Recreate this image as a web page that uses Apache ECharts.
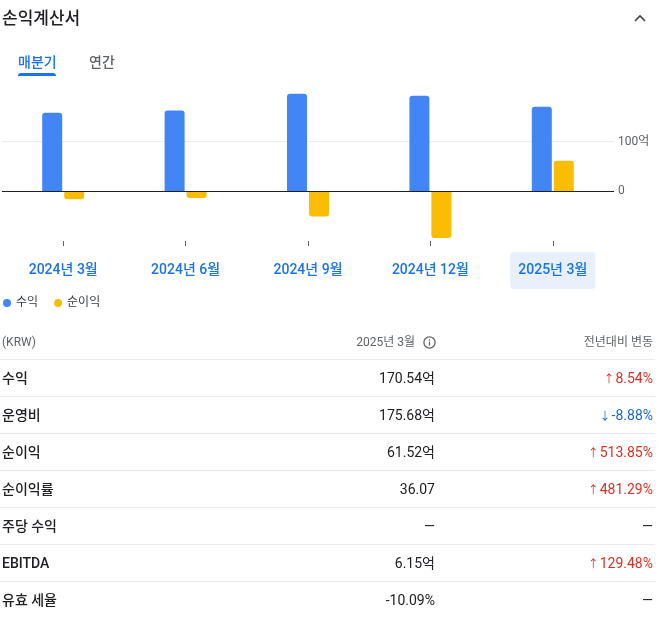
<!DOCTYPE html>
<html><head><meta charset="utf-8">
<script src="https://cdn.jsdelivr.net/npm/echarts@6/dist/echarts.min.js"></script>
<style>
html,body{margin:0;padding:0;background:#fff;}
body{width:662px;height:633px;position:relative;overflow:hidden;font-family:Roboto,"Noto Sans CJK KR",sans-serif;color:#202124;}
#chart{position:absolute;left:0;top:0;width:662px;height:633px;}
.abs{position:absolute;white-space:nowrap;}
.line{position:absolute;left:0;width:655px;height:1px;background:#e8eaed;}
</style>
</head><body>
<div id="chart"></div>
<div class="abs" style="left:2px;top:8px;font-size:17px;line-height:20px;color:#202124;font-weight:500;">손익계산서</div>
<svg class="abs" style="left:634px;top:14px;" width="12" height="8" viewBox="0 0 12 8"><polyline points="1,7 6,2 11,7" fill="none" stroke="#444" stroke-width="1.6"/></svg>
<div class="abs" style="left:18px;top:53px;font-size:14px;line-height:18px;color:#1a73e8;font-weight:500;">매분기</div>
<div class="abs" style="left:18px;top:73px;width:38px;height:3px;background:#1a73e8;border-radius:3px 3px 0 0;"></div>
<div class="abs" style="left:89px;top:53px;font-size:14px;line-height:18px;color:#5f6368;font-weight:500;">연간</div>
<div id="table"></div>
<script>
const categories = ['2024년 3월','2024년 6월','2024년 9월','2024년 12월','2025년 3월'];
const revenue = [158.3, 163.0, 196.6, 192.6, 170.54];
const netIncome = [-16.1, -13.3, -50.9, -93.8, 61.52];
const yLabels = {0:'0', 100:'100억'};

const rowLabels = ['수익','운영비','순이익','순이익률','주당 수익','EBITDA','유효 세율'];
const rowValues = ['170.54억','175.68억','61.52억','36.07','—','6.15억','-10.09%'];
const rowChanges = ['8.54%','-8.88%','513.85%','481.29%','—','129.48%','—'];
const rowDirs = ['up','down','up','up','','up',''];

// table
(function(){
  const t = document.getElementById('table');
  let h = '';
  h += '<div class="abs" style="left:2px;top:334px;font-size:12px;line-height:16px;color:#5f6368;">(KRW)</div>';
  h += '<div class="abs" style="right:247px;top:334px;font-size:12px;line-height:16px;color:#5f6368;">2025년 3월</div>';
  h += '<svg class="abs" style="left:423px;top:336px;" width="13" height="13" viewBox="0 0 13 13"><circle cx="6.5" cy="6.5" r="5.6" fill="none" stroke="#5f6368" stroke-width="1.3"/><rect x="5.85" y="5.6" width="1.3" height="4" fill="#5f6368"/><rect x="5.85" y="3.3" width="1.3" height="1.3" fill="#5f6368"/></svg>';
  h += '<div class="abs" style="right:9px;top:334px;font-size:12px;line-height:16px;color:#5f6368;">전년대비 변동</div>';
  for (let i = 0; i < rowLabels.length; i++) {
    const lineY = 359 + i * 37;
    const cy = lineY + 19;
    h += '<div class="line" style="top:' + lineY + 'px;"></div>';
    h += '<div class="abs" style="left:2px;top:' + (cy - 10) + 'px;font-size:14px;line-height:20px;color:#202124;font-weight:500;">' + rowLabels[i] + '</div>';
    h += '<div class="abs" style="right:227px;top:' + (cy - 10) + 'px;font-size:14px;line-height:20px;color:#202124;">' + rowValues[i] + '</div>';
    let col = '#202124', arrow = '';
    if (rowDirs[i] === 'up') { col = '#d93025'; arrow = '<span style="font-size:11px;margin-right:1px;">↑</span>'; }
    if (rowDirs[i] === 'down') { col = '#1967d2'; arrow = '<span style="font-size:11px;margin-right:1px;">↓</span>'; }
    h += '<div class="abs" style="right:9px;top:' + (cy - 10) + 'px;font-size:14px;line-height:20px;color:' + col + ';">' + arrow + rowChanges[i] + '</div>';
  }
  t.innerHTML = h;
})();

const chart = echarts.init(document.getElementById('chart'), null, {renderer:'canvas'});
const lastIdx = categories.length - 1;
const labelRich = {
  n: {fontSize:14, fontWeight:500, color:'#1a73e8', lineHeight:17, padding:[11,8,12,8], fontFamily:'Roboto, "Noto Sans CJK KR", sans-serif'},
  sel: {fontSize:14, fontWeight:500, color:'#1a73e8', lineHeight:17, padding:[11,8,12,8], backgroundColor:'#e8f0fe', borderRadius:4, fontFamily:'Roboto, "Noto Sans CJK KR", sans-serif'}
};
chart.setOption({
  animation: false,
  textStyle: {fontFamily:'Roboto, "Noto Sans CJK KR", sans-serif'},
  legend: {
    data: ['수익','순이익'], left: 3, top: 297, padding: 0,
    icon: 'circle', itemWidth: 8, itemHeight: 8, itemGap: 16,
    textStyle: {fontSize: 12, color: '#3c4043'}
  },
  grid: {left: 2, right: 48, top: 92, height: 149, containLabel: false},
  xAxis: {
    type: 'category', data: categories,
    axisLine: {show: false, onZero: false},
    axisTick: {show: true, alignWithLabel: true, length: 5, lineStyle: {color: '#5f6368', width: 1}},
    axisLabel: {
      margin: 21, rich: labelRich,
      formatter: (v, i) => (i === lastIdx ? '{sel|' + v + '}' : '{n|' + v + '}')
    },
    splitLine: {show: false}
  },
  yAxis: {
    type: 'value', position: 'right', min: -100, max: 200, interval: 100,
    axisLine: {show: false}, axisTick: {show: false},
    axisLabel: {margin: 4, fontSize: 12, color: '#5f6368', formatter: v => (yLabels[v] !== undefined ? yLabels[v] : '')},
    splitLine: {show: true, lineStyle: {color: ['rgba(0,0,0,0)','rgba(0,0,0,0)','#ededed','rgba(0,0,0,0)'], width: 1}}
  },
  series: [
    {
      name: '수익', type: 'bar', barWidth: 20, barGap: '10%',
      itemStyle: {color: '#4285f4', borderRadius: [3,3,0,0]},
      data: revenue,
      markLine: {
        silent: true, symbol: ['none','none'], label: {show: false},
        lineStyle: {color: '#202124', type: 'solid', width: 1},
        data: [{yAxis: 0}]
      }
    },
    {
      name: '순이익', type: 'bar', barWidth: 20, barGap: '10%',
      itemStyle: {color: '#fbbc04'},
      data: netIncome.map(v => ({value: v, itemStyle: {borderRadius: v < 0 ? [0,0,3,3] : [3,3,0,0]}}))
    }
  ]
});
</script>
</body></html>
